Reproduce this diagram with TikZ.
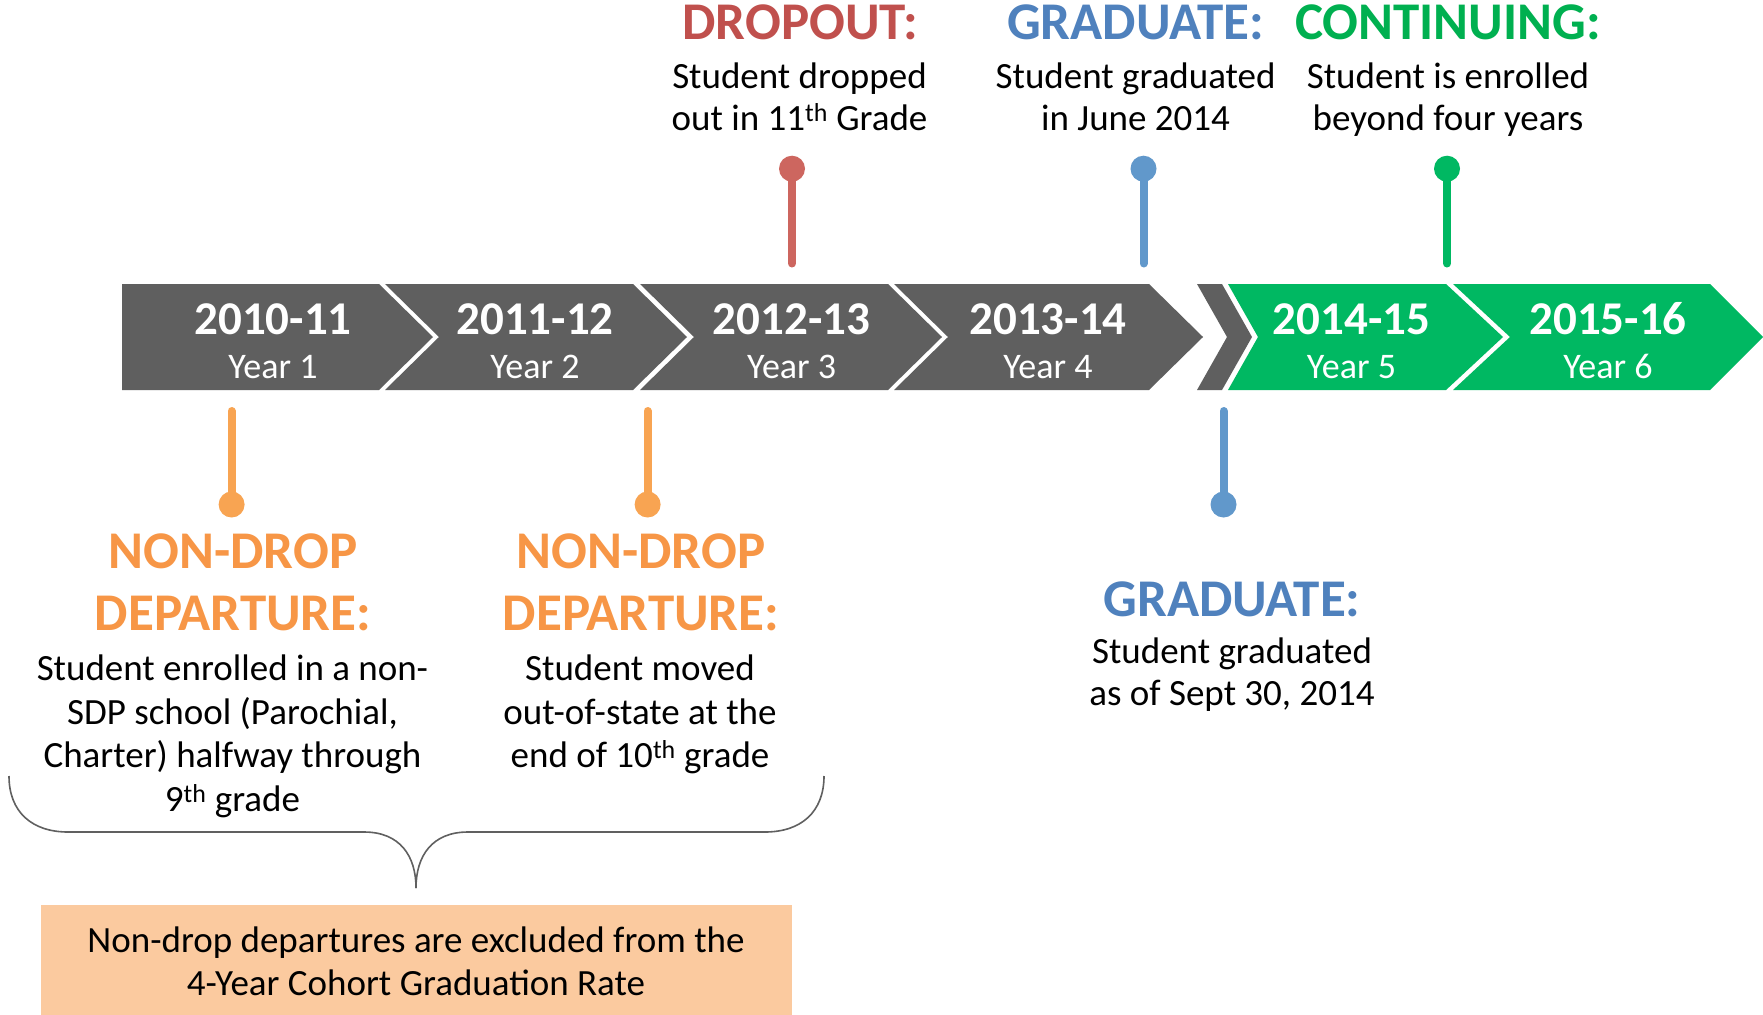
\documentclass[tikz,border=0pt]{standalone}
\usepackage{fontspec}
\setmainfont{Carlito}
\definecolor{chevgrey}{HTML}{5F5F5F}
\definecolor{chevgreen}{HTML}{00B862}
\definecolor{dropred}{HTML}{C0504D}
\definecolor{pinred}{HTML}{CD665F}
\definecolor{gradblue}{HTML}{4F81BD}
\definecolor{pinblue}{HTML}{6198CB}
\definecolor{contgreen}{HTML}{00B050}
\definecolor{pingreen}{HTML}{00B862}
\definecolor{ndorange}{HTML}{F79646}
\definecolor{pinorange}{HTML}{F8A452}
\definecolor{boxpeach}{HTML}{FBCA9F}
\definecolor{bracegrey}{HTML}{606060}
\newcommand\mystrutb{\vrule height 30pt width 0pt depth 0pt}
\newcommand\mystrutt{\vrule height 40pt width 0pt depth 0pt}
\tikzset{
  yearlbl/.style={font=\fontsize{47}{50}\selectfont\bfseries, text=white, anchor=base, inner sep=0pt},
  yearsub/.style={font=\fontsize{36}{40}\selectfont, text=white, anchor=base, inner sep=0pt},
  titlelbl/.style={font=\fontsize{53}{62.4}\selectfont\bfseries, anchor=north, inner sep=0pt, align=center},
  bodylbl/.style={font=\fontsize{37}{42.3}\selectfont, anchor=north, inner sep=0pt, align=center},
  pinstem/.style={line width=8pt, line cap=round},
  pinhead/.style={circle, minimum size=26pt, inner sep=0pt, draw=none},
}
\begin{document}
\begin{tikzpicture}[x=1pt,y=-1pt]
\useasboundingbox (0,0) rectangle (1763,1014);
\fill[white] (0,0) rectangle (1763,1014);

% chevrons
\fill[chevgrey] (122,284) -- (379,284) -- (433,337) -- (379,390) -- (122,390) -- cycle;
\fill[chevgrey] (385,284) -- (633,284) -- (687,337) -- (633,390) -- (385,390) -- (439,337) -- cycle;
\fill[chevgrey] (640,284) -- (888,284) -- (942,337) -- (888,390) -- (640,390) -- (694,337) -- cycle;
\fill[chevgrey] (894,284) -- (1149,284) -- (1203,337) -- (1149,390) -- (894,390) -- (948,337) -- cycle;
\fill[chevgrey] (1197,284) -- (1222,284) -- (1252,337) -- (1222,390) -- (1197,390) -- (1227,337) -- cycle;
\fill[chevgreen] (1228,284) -- (1446,284) -- (1503,337) -- (1446,390) -- (1228,390) -- (1258,337) -- cycle;
\fill[chevgreen] (1453,284) -- (1710,284) -- (1763,337) -- (1710,390) -- (1453,390) -- (1510,337) -- cycle;

% year labels
\node[yearlbl] (y1) at (273,334) {2010-11};
\node[yearsub] (s1) at (273,378) {Year 1};
\node[yearlbl] (y2) at (535,334) {2011-12};
\node[yearsub] (s2) at (535,378) {Year 2};
\node[yearlbl] (y3) at (791.6,334) {2012-13};
\node[yearsub] (s3) at (791.6,378) {Year 3};
\node[yearlbl] (y4) at (1048,334) {2013-14};
\node[yearsub] (s4) at (1048,378) {Year 4};
\node[yearlbl] (y5) at (1351.5,334) {2014-15};
\node[yearsub] (s5) at (1351.5,378) {Year 5};
\node[yearlbl] (y6) at (1608,334) {2015-16};
\node[yearsub] (s6) at (1608,378) {Year 6};

% top pins
\node[pinhead, fill=pinred] (pinD) at (792,168.7) {};
\coordinate (pinDe) at (792,263.5);
\draw[pinstem, pinred] (pinD.center) -- (pinDe);
\node[pinhead, fill=pinblue] (pinG) at (1143.5,168.7) {};
\coordinate (pinGe) at (1143.5,263.5);
\draw[pinstem, pinblue] (pinG.center) -- (pinGe);
\node[pinhead, fill=pingreen] (pinC) at (1447,168.7) {};
\coordinate (pinCe) at (1447,263.5);
\draw[pinstem, pingreen] (pinC.center) -- (pinCe);

% bottom pins
\node[pinhead, fill=pinorange] (pinN1) at (231.6,504.5) {};
\coordinate (pinN1e) at (231.6,411);
\draw[pinstem, pinorange] (pinN1.center) -- (pinN1e);
\node[pinhead, fill=pinorange] (pinN2) at (647.6,504.5) {};
\coordinate (pinN2e) at (647.6,411);
\draw[pinstem, pinorange] (pinN2.center) -- (pinN2e);
\node[pinhead, fill=pinblue] (pinG2) at (1223.5,504.5) {};
\coordinate (pinG2e) at (1223.5,411);
\draw[pinstem, pinblue] (pinG2.center) -- (pinG2e);

% top texts
\node[titlelbl, text=dropred] (dropT) at (800.5,-0.7) {\mystrutt DROPOUT:};
\node[bodylbl] (dropB) at (799.5,58.3) {\mystrutb Student dropped\\out in 11\textsuperscript{th} Grade};
\node[titlelbl, text=gradblue] (gradT) at (1135.7,-0.7) {\mystrutt GRADUATE:};
\node[bodylbl] (gradB) at (1135.6,58.3) {\mystrutb Student graduated\\in June 2014};
\node[titlelbl, text=contgreen] (contT) at (1448,-0.7) {\mystrutt CONTINUING:};
\node[bodylbl] (contB) at (1448,58.3) {\mystrutb Student is enrolled\\beyond four years};

% bottom texts
\node[titlelbl, text=ndorange] (nd1T) at (233,528.3) {\mystrutt NON-DROP\\DEPARTURE:};
\node[bodylbl, font=\fontsize{37}{43.8}\selectfont] (nd1B) at (232.5,650) {\mystrutb Student enrolled in a non-\\SDP school (Parochial,\\Charter) halfway through\\9\textsuperscript{th} grade};
\node[titlelbl, text=ndorange] (nd2T) at (641,528.3) {\mystrutt NON-DROP\\DEPARTURE:};
\node[bodylbl, font=\fontsize{37}{43.8}\selectfont] (nd2B) at (640,650) {\mystrutb Student moved\\out-of-state at the\\end of 10\textsuperscript{th} grade};
\node[titlelbl, text=gradblue] (grad2T) at (1232,576) {\mystrutt GRADUATE:};
\node[bodylbl] (grad2B) at (1232,633) {\mystrutb Student graduated\\as of Sept 30, 2014};

% brace
\coordinate (brL) at (9,776);
\coordinate (brR) at (824,776);
\coordinate (brTip) at (416,888);
\draw[bracegrey, line width=1.6pt]
  (brL) .. controls (9,812) and (32,832) .. (68,832) -- (364,832)
  .. controls (400,832) and (416,856) .. (brTip);
\draw[bracegrey, line width=1.6pt]
  (brR) .. controls (824,812) and (801,832) .. (765,832) -- (468,832)
  .. controls (432,832) and (416,856) .. (brTip);

% box
\node[fill=boxpeach, minimum width=751pt, minimum height=110pt, inner sep=0pt, anchor=north west] (nbox) at (40.5,905) {};
\node[bodylbl, font=\fontsize{37}{43}\selectfont] (ntext) at (416,922) {\mystrutb Non-drop departures are excluded from the\\4-Year Cohort Graduation Rate};
\end{tikzpicture}
\end{document}
